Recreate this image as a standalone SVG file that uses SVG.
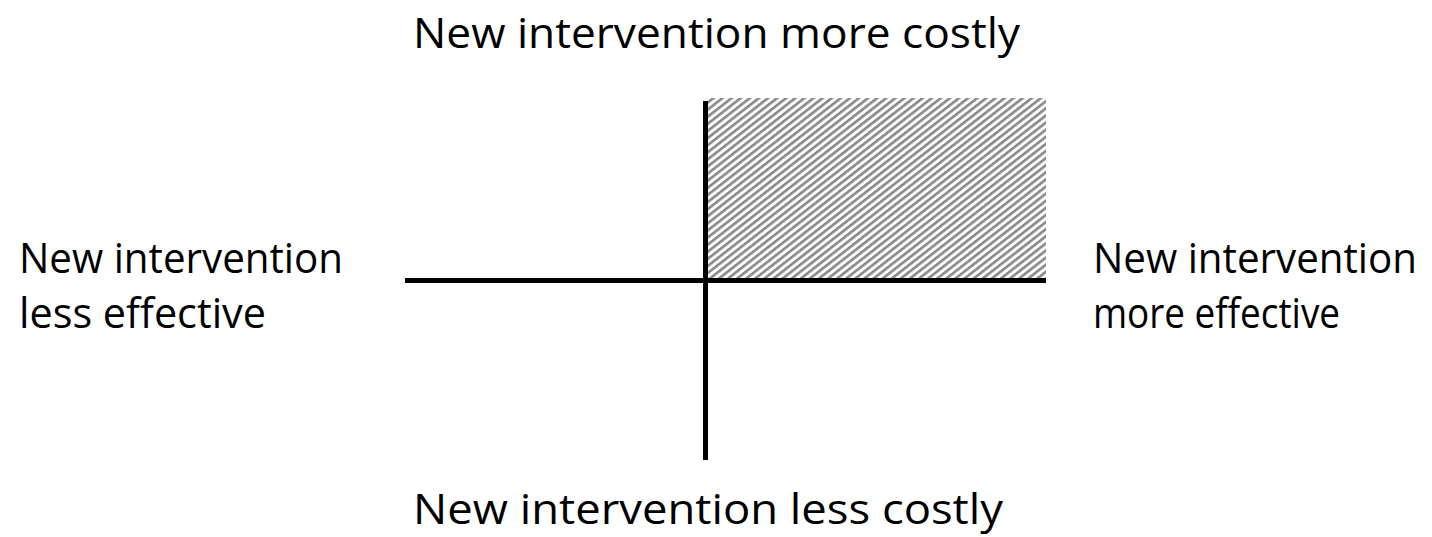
<svg xmlns="http://www.w3.org/2000/svg" width="1432" height="537" viewBox="0 0 1432 537">
  <style>
    .lbl { font-family: "Open Sans", "Noto Sans", "Liberation Sans", sans-serif; font-size: 42px; fill: #000; }
    .axis { stroke: #000; stroke-width: 5; fill: none; }
  </style>
  <defs>
    <!-- fine upward diagonal hatch -->
    <pattern id="hatch" patternUnits="userSpaceOnUse" width="5.6" height="5.6" patternTransform="rotate(-38)">
      <rect width="5.6" height="5.6" fill="#fff"/>
      <rect width="5.6" height="2.6" y="0" fill="#888"/>
    </pattern>
  </defs>
  <rect width="1432" height="537" fill="#fff"/>

  <g id="quadrant">
    <rect x="707" y="98" width="339" height="182" fill="url(#hatch)"/>
  </g>

  <g id="connectors">
    <line class="axis" x1="405" y1="280.5" x2="1046" y2="280.5"/>
    <line class="axis" x1="705.5" y1="101" x2="705.5" y2="460"/>
  </g>

  <g id="label-top">
    <text class="lbl" x="413" y="48" textLength="607" lengthAdjust="spacingAndGlyphs">New intervention more costly</text>
  </g>
  <g id="label-left">
    <text class="lbl" x="19" y="273" textLength="324" lengthAdjust="spacingAndGlyphs">New intervention</text>
    <text class="lbl" x="19" y="328" textLength="247" lengthAdjust="spacingAndGlyphs">less effective</text>
  </g>
  <g id="label-right">
    <text class="lbl" x="1093" y="273" textLength="324" lengthAdjust="spacingAndGlyphs">New intervention</text>
    <text class="lbl" x="1093" y="328" textLength="247" lengthAdjust="spacingAndGlyphs">more effective</text>
  </g>
  <g id="label-bottom">
    <text class="lbl" x="413" y="524" textLength="590" lengthAdjust="spacingAndGlyphs">New intervention less costly</text>
  </g>
</svg>
